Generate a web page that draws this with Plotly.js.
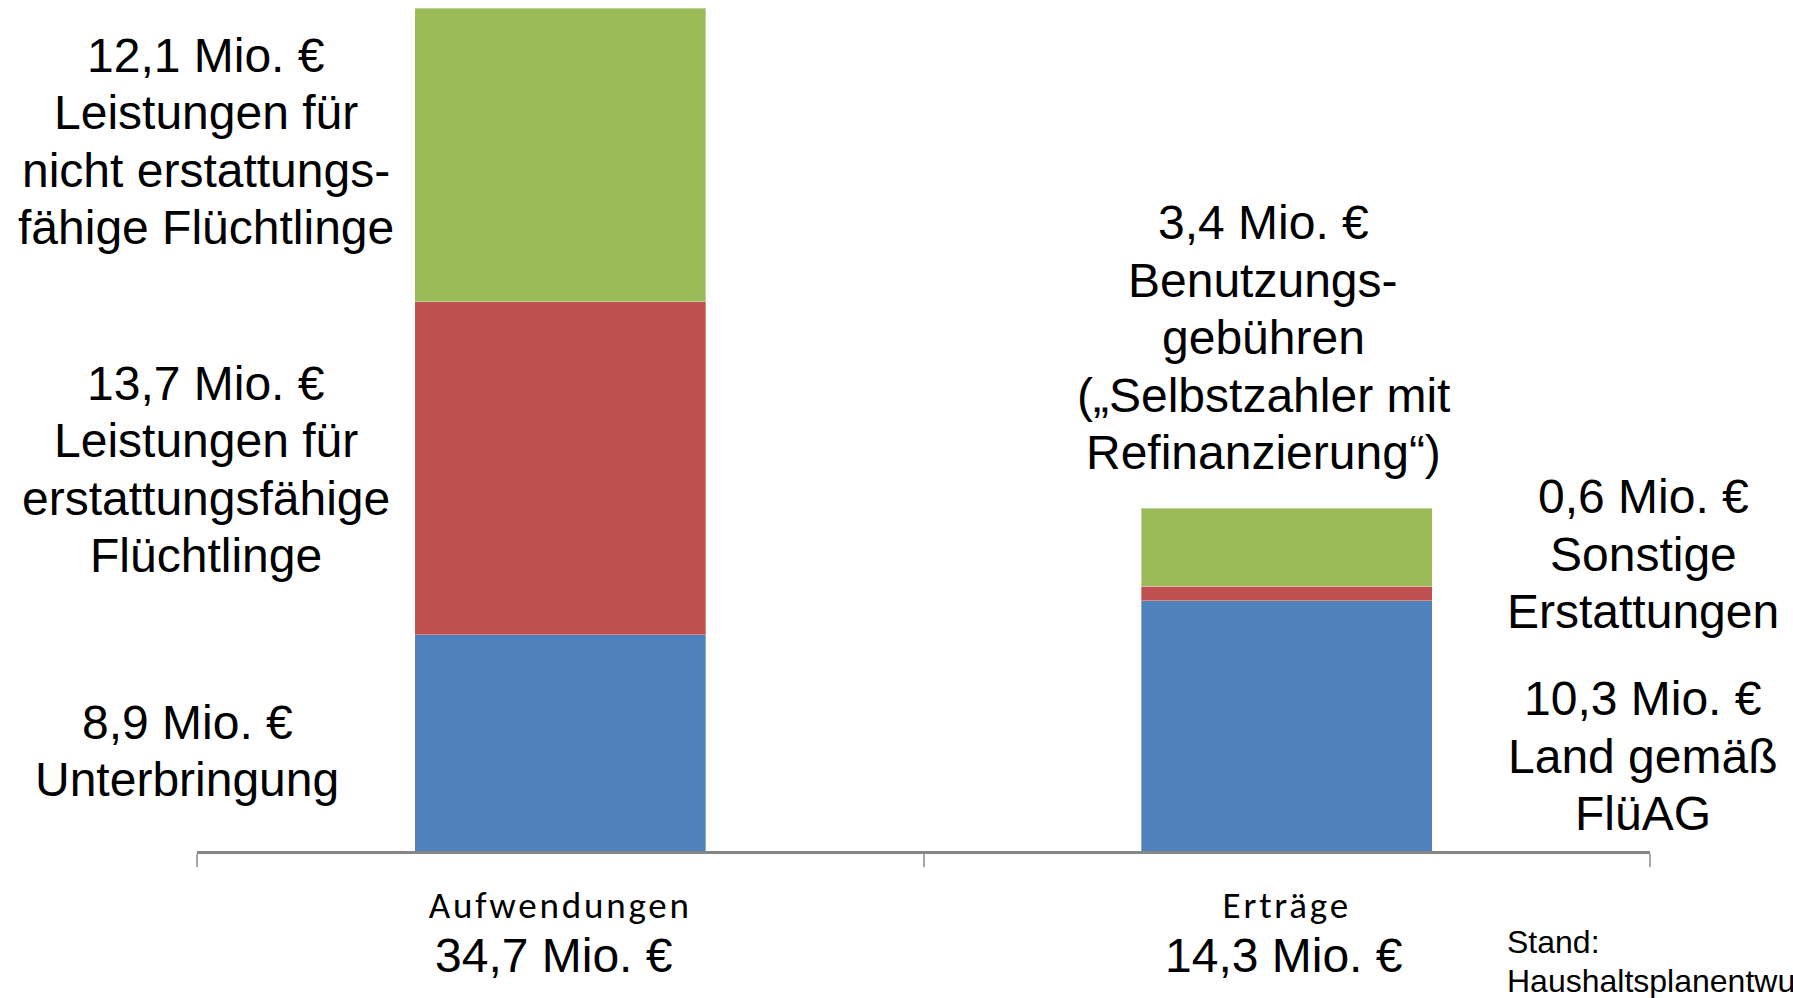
<!DOCTYPE html>
<html>
<head>
<meta charset="utf-8">
<script src="https://cdn.plot.ly/plotly-3.0.1.min.js"></script>
<style>
  html, body { margin: 0; padding: 0; background: #ffffff; overflow: hidden; }
  #chart { width: 1793px; height: 998px; }
  #chart .xtick text { letter-spacing: 2.8px; }
</style>
</head>
<body>
<div id="chart"></div>
<script>
// ---- Data ----
const categories = ['Aufwendungen', 'Erträge'];
// bar heights as drawn in the picture
const bottomValues = [8.9, 10.3];   // Unterbringung / Land gemäß FlüAG
const middleValues = [13.7, 0.6];   // erstattungsfähige Flüchtlinge / Sonstige Erstattungen
const topValues = [12.1, 3.2];      // nicht erstattungsfähige / Benutzungsgebühren
// amounts as printed in the labels
const bottomAmounts = ['8,9 Mio. €', '10,3 Mio. €'];
const middleAmounts = ['13,7 Mio. €', '0,6 Mio. €'];
const topAmounts = ['12,1 Mio. €', '3,4 Mio. €'];
const totalAmounts = ['34,7 Mio. €', '14,3 Mio. €'];
const bottomLabels = [['Unterbringung'], ['Land gemäß', 'FlüAG']];
const middleLabels = [['Leistungen für', 'erstattungsfähige', 'Flüchtlinge'], ['Sonstige', 'Erstattungen']];
const topLabels = [['Leistungen für', 'nicht erstattungs-', 'fähige Flüchtlinge'], ['Benutzungs-', 'gebühren', '(„Selbstzahler mit', 'Refinanzierung“)']];
const noteLines = ['Stand:', 'Haushaltsplanentwurf'];

// ---- Layout helpers ----
const W = 1793, H = 998;
const L = 197, R = 1650, T = 8, B = 851;
const px = x => (x - L) / (R - L);
const py = y => (B - y) / (B - T);

const ARIAL = '"Liberation Sans", Arial, sans-serif';
const CAL = 'Carlito, Calibri, Lato, sans-serif';
const LINE = 57.5;

const annotations = [];
function block(lines, cx, cy) {
  const n = lines.length;
  lines.forEach((t, i) => {
    annotations.push({
      text: t, xref: 'paper', yref: 'paper',
      x: px(cx), y: py(cy + (i - (n - 1) / 2) * LINE),
      xanchor: 'center', yanchor: 'middle', showarrow: false,
      font: { family: ARIAL, size: 48, color: '#000000' }
    });
  });
}

// label block centers in pixels (style only)
const blockPos = {
  top: [[206, 141.5], [1263, 338]],
  middle: [[206, 469.5], [1643, 554]],
  bottom: [[187, 751], [1643, 756]]
};
[0, 1].forEach(i => {
  block([topAmounts[i]].concat(topLabels[i]), blockPos.top[i][0], blockPos.top[i][1]);
  block([middleAmounts[i]].concat(middleLabels[i]), blockPos.middle[i][0], blockPos.middle[i][1]);
  block([bottomAmounts[i]].concat(bottomLabels[i]), blockPos.bottom[i][0], blockPos.bottom[i][1]);
});

// totals under category names
const totalShift = [-6, -3];
categories.forEach((c, i) => {
  annotations.push({
    text: totalAmounts[i], xref: 'x', yref: 'paper', x: c, y: py(955), xshift: totalShift[i],
    xanchor: 'center', yanchor: 'middle', showarrow: false,
    font: { family: ARIAL, size: 48, color: '#000000' }
  });
});

// note (cut off at the right edge, as in the original)
noteLines.forEach((t, i) => {
  annotations.push({
    text: t, xref: 'paper', yref: 'paper', x: px(1505), y: py(942 + i * 39),
    xanchor: 'left', yanchor: 'middle', showarrow: false,
    font: { family: ARIAL, size: 32, color: '#000000' }
  });
});

const barStyle = c => ({ color: c, line: { color: 'rgba(255,255,255,0.35)', width: 1 } });
const data = [
  { type: 'bar', name: 'Unterbringung / Land', x: categories, y: bottomValues, marker: barStyle('#4F81BD'), hoverinfo: 'none' },
  { type: 'bar', name: 'Erstattungsfähige / Sonstige', x: categories, y: middleValues, marker: barStyle('#C0504D'), hoverinfo: 'none' },
  { type: 'bar', name: 'Nicht erstattungsfähige / Gebühren', x: categories, y: topValues, marker: barStyle('#9BBB59'), hoverinfo: 'none' }
];

const layout = {
  width: W, height: H,
  margin: { l: L, r: W - R, t: T, b: H - B, pad: 0 },
  paper_bgcolor: '#ffffff', plot_bgcolor: '#ffffff',
  barmode: 'stack', bargap: 0.6,
  showlegend: false,
  xaxis: {
    type: 'category', range: [-0.5, 1.5],
    showline: true, linecolor: '#868686', linewidth: 3,
    ticks: 'outside', tickson: 'boundaries', ticklen: 13, tickwidth: 2, tickcolor: '#A6A6A6',
    showgrid: false, zeroline: false,
    tickfont: { family: CAL, size: 37, color: '#000000' },
    ticklabelstandoff: 20
  },
  yaxis: {
    range: [0, 34.7], visible: false, showgrid: false, zeroline: false
  },
  annotations: annotations
};

Plotly.newPlot('chart', data, layout, { staticPlot: true, displayModeBar: false });
</script>
</body>
</html>
